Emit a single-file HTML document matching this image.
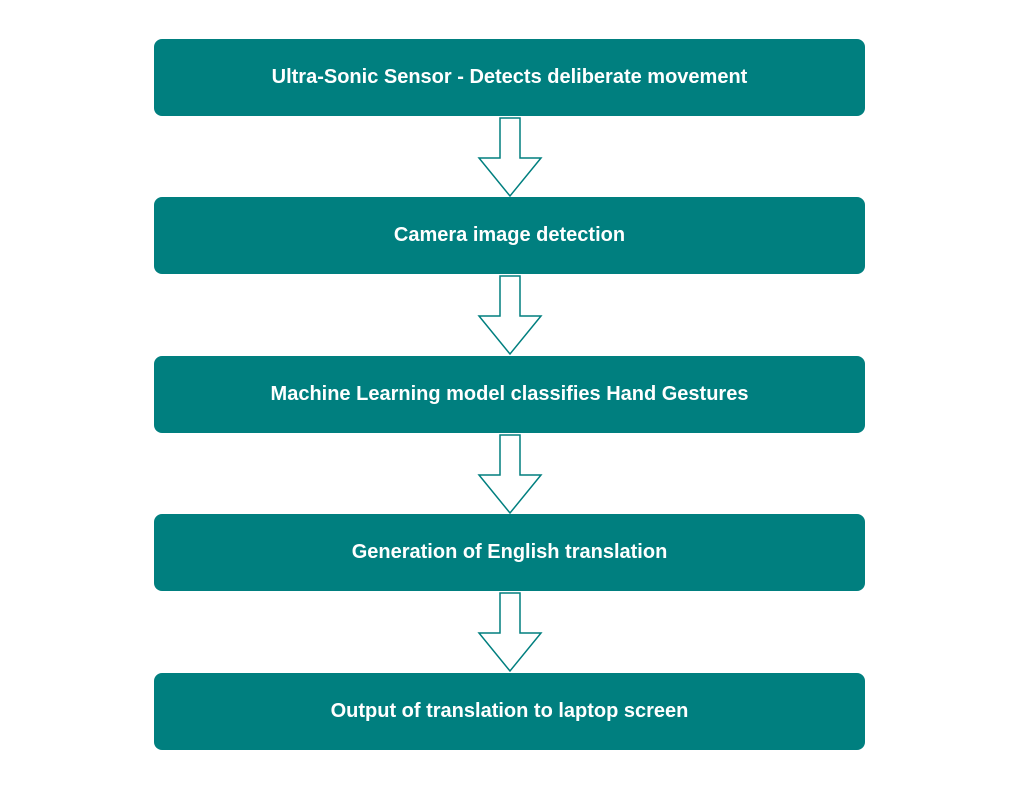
<!DOCTYPE html>
<html><head><meta charset="utf-8"><style>
body{margin:0;width:1032px;height:789px;background:#fff;position:relative;overflow:hidden;font-family:"Liberation Sans",Arial,sans-serif}
.b{position:absolute;left:154px;width:711px;height:77px;background:#007f7f;border-radius:8px;color:#fff;font-weight:bold;font-size:20px;display:flex;align-items:center;justify-content:center}
svg{position:absolute;left:0;top:0}
</style></head><body>
<div class="b" style="top:39px">Ultra-Sonic Sensor - Detects deliberate movement</div>
<div class="b" style="top:197px">Camera image detection</div>
<div class="b" style="top:356px">Machine Learning model classifies Hand Gestures</div>
<div class="b" style="top:514px">Generation of English translation</div>
<div class="b" style="top:673px">Output of translation to laptop screen</div>
<svg width="1032" height="789">
<g fill="#fff" stroke="#007f7f" stroke-width="1.5">
<polygon points="500,118 520,118 520,158 541,158 510,196 479,158 500,158"/>
<polygon points="500,276 520,276 520,316 541,316 510,354 479,316 500,316"/>
<polygon points="500,435 520,435 520,475 541,475 510,513 479,475 500,475"/>
<polygon points="500,593 520,593 520,633 541,633 510,671 479,633 500,633"/>
</g></svg>
</body></html>
